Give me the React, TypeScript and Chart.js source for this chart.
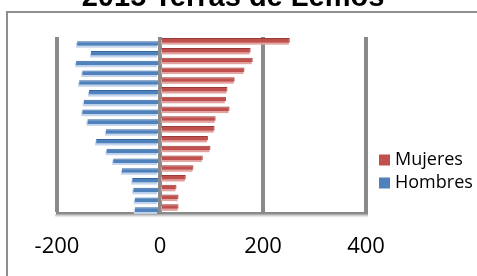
import React, { useEffect, useRef } from "react";
import { Chart, registerables } from "chart.js";

Chart.register(...registerables);

const titleText = "2015 Terras de Lemos";
const categories = ["85+", "80-84", "75-79", "70-74", "65-69", "60-64", "55-59", "50-54", "45-49", "40-44", "35-39", "30-34", "25-29", "20-24", "15-19", "10-14", "5-9", "0-4"];
const mujeres = [252, 176, 180, 164, 145, 131, 128, 135, 108, 106, 93, 98, 83, 65, 50, 32, 36, 36];
const hombres = [-161, -134, -163, -151, -157, -138, -148, -151, -141, -105, -124, -104, -91, -74, -54, -52, -49, -49];
const seriesNames = ["Mujeres", "Hombres"];
const xMin = -200;
const xMax = 400;
const xStep = 200;

const RED = "#C0504D";
const RED_DARK = "#9A3B39";
const RED_SHADOW = "#E3A3A1";
const BLUE = "#4F81BD";
const BLUE_DARK = "#3567A3";
const BLUE_SHADOW = "#C3D5EC";
const GRID = "#8A8A8A";

const decorPlugin = {
  id: "decor",
  beforeDraw(chart: any) {
    const ctx = chart.ctx;
    ctx.save();
    ctx.fillStyle = "#ffffff";
    ctx.fillRect(0, 0, chart.width, chart.height);
    ctx.strokeStyle = "#8f8f8f";
    ctx.lineWidth = 2;
    ctx.strokeRect(7, 12, 700, 500);
    ctx.fillStyle = "#000000";
    ctx.font = "bold 29px 'Liberation Sans', Arial, sans-serif";
    ctx.textAlign = "center";
    ctx.textBaseline = "alphabetic";
    ctx.fillText(titleText, 233, 6);
    ctx.restore();
  },
  beforeDatasetsDraw(chart: any) {
    const ctx = chart.ctx;
    const a = chart.chartArea;
    ctx.save();
    // light floor shadow
    ctx.fillStyle = "#cfcfcf";
    ctx.fillRect(a.left - 2, a.bottom + 1.5, a.right - a.left + 4, 2);
    chart.data.datasets.forEach((ds: any, i: number) => {
      const meta = chart.getDatasetMeta(i);
      ctx.fillStyle = i === 0 ? RED_SHADOW : BLUE_SHADOW;
      meta.data.forEach((bar: any) => {
        const p = bar.getProps(["x", "y", "base", "height"], true);
        const left = Math.min(p.x, p.base);
        const right = Math.max(p.x, p.base);
        ctx.fillRect(left - 1, p.y - p.height / 2 + 2, right - left, p.height);
      });
    });
    ctx.restore();
  },
  afterDraw(chart: any) {
    const ctx = chart.ctx;
    ctx.save();
    const items = [
      { label: seriesNames[0], color: RED, y: 160 },
      { label: seriesNames[1], color: BLUE, y: 183 },
    ];
    ctx.font = "18px 'Open Sans', sans-serif";
    ctx.textBaseline = "middle";
    ctx.textAlign = "left";
    items.forEach((it) => {
      ctx.fillStyle = it.color;
      ctx.fillRect(379, it.y - 5.5, 11, 11);
      ctx.fillStyle = "#000000";
      ctx.fillText(it.label, 395, it.y);
    });
    ctx.restore();
  },
};

export default function App() {
  const ref = useRef<HTMLCanvasElement | null>(null);
  useEffect(() => {
    if (!ref.current) return;
    const chart = new Chart(ref.current, {
      type: "bar",
      data: {
        labels: categories,
        datasets: [
          {
            label: seriesNames[0],
            data: mujeres,
            backgroundColor: RED,
            borderColor: RED_DARK,
            borderWidth: { top: 1, bottom: 0, left: 0, right: 1 },
            borderSkipped: false,
          },
          {
            label: seriesNames[1],
            data: hombres,
            backgroundColor: BLUE,
            borderColor: BLUE_DARK,
            borderWidth: { top: 1, bottom: 0, left: 0, right: 0 },
            borderSkipped: false,
          },
        ],
      },
      options: {
        indexAxis: "y",
        animation: false,
        responsive: false,
        categoryPercentage: 0.62,
        barPercentage: 1.5,
        layout: { padding: { left: 57, right: 111, top: 37, bottom: 0 } },
        plugins: {
          legend: { display: false },
          title: { display: false },
          tooltip: { enabled: false },
        },
        scales: {
          x: {
            min: xMin,
            max: xMax,
            afterFit: (scale: any) => {
              scale.height = 63;
            },
            ticks: {
              stepSize: xStep,
              color: "#000000",
              padding: 21,
              maxRotation: 0,
              font: { family: "'Open Sans', sans-serif", size: 22 },
            },
            grid: { color: GRID, lineWidth: 4, drawTicks: false },
            border: { display: true, color: GRID, width: 3 },
          },
          y: {
            display: false,
            grid: { display: false },
          },
        },
      },
      plugins: [decorPlugin],
    } as any);
    return () => chart.destroy();
  }, []);
  return (
    <canvas
      ref={ref}
      width={477}
      height={276}
      style={{ position: "fixed", left: 0, top: 0, display: "block" }}
    />
  );
}
